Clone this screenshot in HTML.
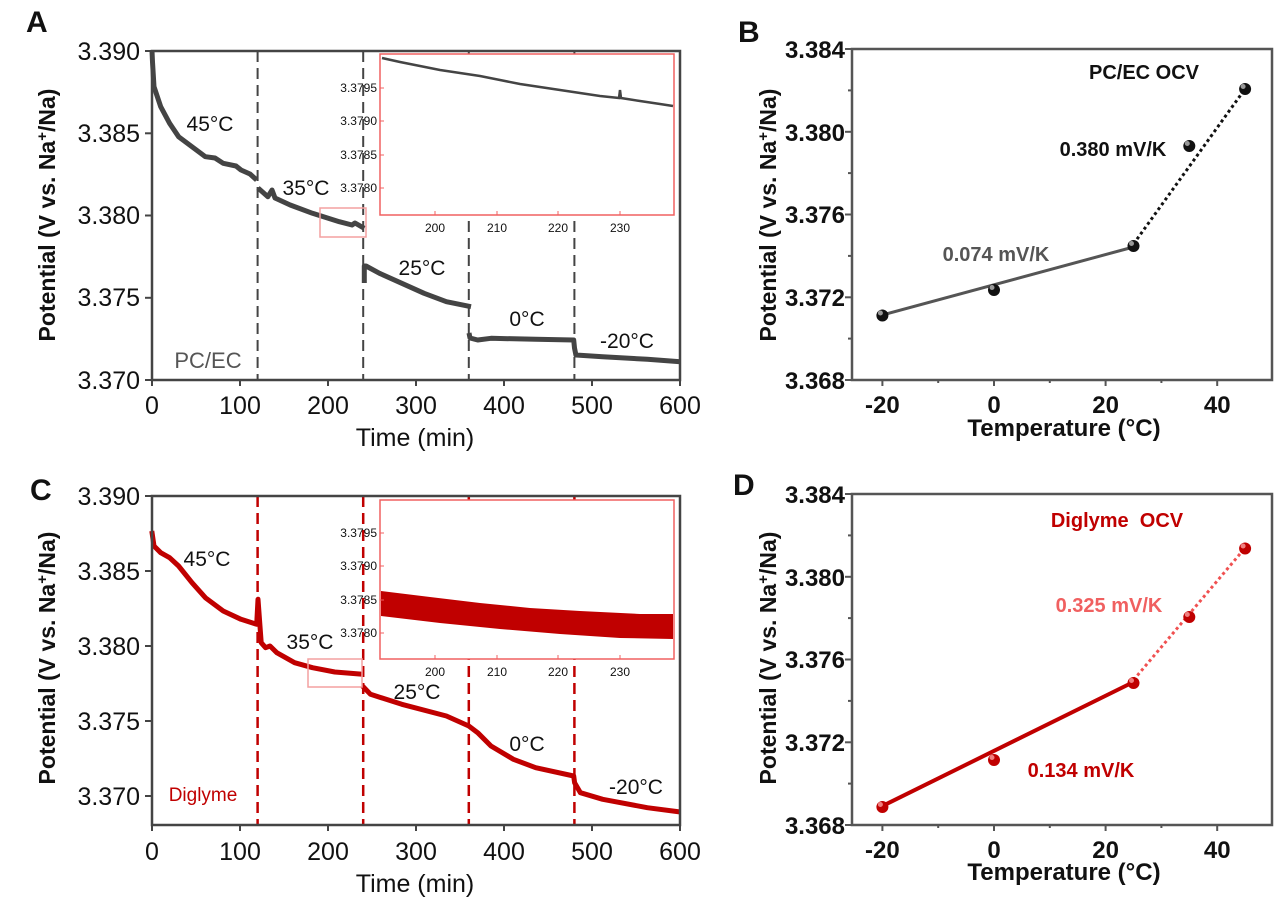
<!DOCTYPE html>
<html><head><meta charset="utf-8"><style>
html,body{margin:0;padding:0;background:#fff;}
svg{display:block;}
text{font-family:"Liberation Sans",Arial,sans-serif;}
.tk{font-size:25px;fill:#111;}
.tb{font-size:24px;font-weight:bold;fill:#111;}
.ins{font-family:"Liberation Serif",serif;font-size:12px;fill:#111;}
.ttl{font-size:23px;font-weight:bold;fill:#111;}
.lab{font-size:21px;fill:#111;}
.pl{font-size:30px;font-weight:bold;fill:#111;}
</style></head><body>
<svg width="1280" height="906" viewBox="0 0 1280 906" xmlns="http://www.w3.org/2000/svg">
<rect width="1280" height="906" fill="#fff"/>

<!-- ============ PANEL A ============ -->
<text class="pl" x="26" y="32">A</text>
<g stroke="#444" stroke-width="2" stroke-dasharray="11,6">
<line x1="257.6" y1="51" x2="257.6" y2="380"/>
<line x1="363.2" y1="51" x2="363.2" y2="380"/>
<line x1="468.8" y1="51" x2="468.8" y2="380"/>
<line x1="574.4" y1="51" x2="574.4" y2="380"/>
</g>
<path fill="none" stroke="#444" stroke-width="5" stroke-linejoin="round" d="M152,51 L152.5,62 L154,86.7 L160.7,106.7 L169.6,123.3 L178.6,136.7 L192,146.7 L205.4,156.7 L215,158 L223.2,163.3 L236,166 L241,170 L250,174 L256.7,180"/>
<path fill="none" stroke="#444" stroke-width="5" stroke-linejoin="round" d="M258,188 L267.9,196.7 L272,190 L275,198 L290.2,205 L312.5,213.3 L339.3,221.7 L352,225 L355,223 L364.3,228.3"/>
<path fill="none" stroke="#444" stroke-width="5" stroke-linejoin="round" d="M364.3,283 L364.3,266 L366,266 L379.5,273.3 L401.8,283.3 L424.1,293.3 L446.4,301.7 L471,306.7"/>
<path fill="none" stroke="#444" stroke-width="5" stroke-linejoin="round" d="M469,333 L470,338 L477.7,340 L491,338.3 L535.7,339.3 L573.7,340 L574.5,348 L575.9,355 L602.7,356.7 L647.3,359.3 L680.4,361.7"/>
<rect x="320" y="208" width="46" height="29" fill="none" stroke="#f4a0a0" stroke-width="1.5"/>
<rect x="380" y="54" width="294" height="161" fill="#fff" stroke="#f06060" stroke-width="1.5"/>
<path fill="none" stroke="#444" stroke-width="2.5" d="M382,58 L400,62 L420,66 L440,70 L460,73 L480,76 L500,80 L520,84 L540,87 L560,90 L580,93 L600,96 L619,98 L620,90 L621,98 L640,101 L660,104 L673,106"/>
<g stroke="#f06060" stroke-width="1">
<line x1="380" y1="88" x2="384" y2="88"/><line x1="380" y1="121" x2="384" y2="121"/><line x1="380" y1="155" x2="384" y2="155"/><line x1="380" y1="188" x2="384" y2="188"/>
<line x1="435" y1="215" x2="435" y2="211"/><line x1="497" y1="215" x2="497" y2="211"/><line x1="558" y1="215" x2="558" y2="211"/><line x1="620" y1="215" x2="620" y2="211"/>
</g>
<g class="ins" text-anchor="end">
<text x="377" y="92">3.3795</text><text x="377" y="125">3.3790</text><text x="377" y="159">3.3785</text><text x="377" y="192">3.3780</text>
</g>
<g class="ins" text-anchor="middle">
<text x="435" y="232">200</text><text x="497" y="232">210</text><text x="558" y="232">220</text><text x="620" y="232">230</text>
</g>
<rect x="152" y="51" width="528" height="329" fill="none" stroke="#444" stroke-width="2.5"/>
<g stroke="#444" stroke-width="2">
<line x1="145" y1="51" x2="152" y2="51"/><line x1="145" y1="133.3" x2="152" y2="133.3"/><line x1="145" y1="215.5" x2="152" y2="215.5"/><line x1="145" y1="297.8" x2="152" y2="297.8"/><line x1="145" y1="380" x2="152" y2="380"/>
<line x1="152" y1="380" x2="152" y2="386"/><line x1="240" y1="380" x2="240" y2="386"/><line x1="328" y1="380" x2="328" y2="386"/><line x1="416" y1="380" x2="416" y2="386"/><line x1="504" y1="380" x2="504" y2="386"/><line x1="592" y1="380" x2="592" y2="386"/><line x1="680" y1="380" x2="680" y2="386"/>
</g>
<g class="tk" text-anchor="end">
<text x="140" y="60">3.390</text><text x="140" y="142">3.385</text><text x="140" y="224">3.380</text><text x="140" y="306">3.375</text><text x="140" y="389">3.370</text>
</g>
<g class="tk" text-anchor="middle">
<text x="152" y="414">0</text><text x="240" y="414">100</text><text x="328" y="414">200</text><text x="416" y="414">300</text><text x="504" y="414">400</text><text x="592" y="414">500</text><text x="680" y="414">600</text>
</g>
<text class="tk" x="415" y="446" text-anchor="middle" font-size="26">Time (min)</text>
<text class="ttl" transform="translate(55,215) rotate(-90)" text-anchor="middle">Potential (V vs. Na<tspan baseline-shift="super" font-size="15">+</tspan>/Na)</text>
<g class="lab" text-anchor="middle">
<text x="210" y="131">45°C</text><text x="306" y="195">35°C</text><text x="422" y="275">25°C</text><text x="527" y="326">0°C</text><text x="627" y="348">-20°C</text>
</g>
<text x="208" y="368" text-anchor="middle" font-size="22" fill="#555">PC/EC</text>

<!-- ============ PANEL B ============ -->
<text class="pl" x="738" y="42">B</text>
<rect x="852" y="49" width="420" height="331" fill="none" stroke="#555" stroke-width="2.5"/>
<g stroke="#555" stroke-width="2">
<line x1="845" y1="49" x2="852" y2="49"/><line x1="848" y1="90.4" x2="852" y2="90.4"/><line x1="845" y1="131.8" x2="852" y2="131.8"/><line x1="848" y1="173.1" x2="852" y2="173.1"/><line x1="845" y1="214.5" x2="852" y2="214.5"/><line x1="848" y1="255.9" x2="852" y2="255.9"/><line x1="845" y1="297.3" x2="852" y2="297.3"/><line x1="848" y1="338.6" x2="852" y2="338.6"/><line x1="845" y1="380" x2="852" y2="380"/>
<line x1="882.4" y1="380" x2="882.4" y2="386"/><line x1="938.2" y1="380" x2="938.2" y2="383"/><line x1="994" y1="380" x2="994" y2="386"/><line x1="1049.8" y1="380" x2="1049.8" y2="383"/><line x1="1105.6" y1="380" x2="1105.6" y2="386"/><line x1="1161.4" y1="380" x2="1161.4" y2="383"/><line x1="1217.2" y1="380" x2="1217.2" y2="386"/>
</g>
<g class="tb" text-anchor="end">
<text x="845" y="58">3.384</text><text x="845" y="141">3.380</text><text x="845" y="223">3.376</text><text x="845" y="306">3.372</text><text x="845" y="389">3.368</text>
</g>
<g class="tb" text-anchor="middle">
<text x="882.4" y="413">-20</text><text x="994" y="413">0</text><text x="1105.6" y="413">20</text><text x="1217.2" y="413">40</text>
</g>
<text class="tb" x="1064" y="436" text-anchor="middle" font-size="25">Temperature (°C)</text>
<text class="ttl" transform="translate(776,215) rotate(-90)" text-anchor="middle">Potential (V vs. Na<tspan baseline-shift="super" font-size="15">+</tspan>/Na)</text>
<line x1="882.4" y1="315" x2="1133.5" y2="247" stroke="#555" stroke-width="3"/>
<line x1="1133.5" y1="244" x2="1245" y2="89" stroke="#111" stroke-width="3" stroke-dasharray="3,3"/>
<g fill="#111"><circle cx="882.4" cy="315.5" r="6"/><circle cx="994" cy="290" r="6"/><circle cx="1133.5" cy="246" r="6"/><circle cx="1189.3" cy="146" r="6"/><circle cx="1245.1" cy="89" r="6"/></g>
<g fill="#999"><circle cx="880.4" cy="313" r="2.5"/><circle cx="992" cy="287.5" r="2.5"/><circle cx="1131.5" cy="243.5" r="2.5"/><circle cx="1187.3" cy="143.5" r="2.5"/><circle cx="1243.1" cy="86.5" r="2.5"/></g>
<text x="1144" y="79" text-anchor="middle" font-size="20" font-weight="bold" fill="#111">PC/EC OCV</text>
<text x="1113" y="156" text-anchor="middle" font-size="20" font-weight="bold" fill="#111">0.380 mV/K</text>
<text x="996" y="261" text-anchor="middle" font-size="20" font-weight="bold" fill="#555">0.074 mV/K</text>

<!-- ============ PANEL C ============ -->
<text class="pl" x="30" y="500">C</text>
<g stroke="#c00000" stroke-width="2.5" stroke-dasharray="11,6">
<line x1="257.6" y1="496" x2="257.6" y2="825"/>
<line x1="363.2" y1="496" x2="363.2" y2="825"/>
<line x1="468.8" y1="496" x2="468.8" y2="825"/>
<line x1="574.4" y1="496" x2="574.4" y2="825"/>
</g>
<path fill="none" stroke="#c00000" stroke-width="5" stroke-linejoin="round" d="M151.8,531 L154,546 L160.7,552.7 L169.6,557.7 L178.6,566 L192,582.7 L205.4,597.7 L223.2,611 L241,619.3 L256.7,624.3 L258,599.3 L261.2,642.7 L265.6,647.7 L270,646 L276.8,652.7 L294.6,662.7 L312.5,667.7 L334.8,672 L362.5,674.3"/>
<path fill="none" stroke="#c00000" stroke-width="5" stroke-linejoin="round" d="M362.5,686 L370.5,694.3 L401.8,704.3 L446.4,716 L468.8,726 L477.7,732.7 L491,746 L513.4,759.3 L535.7,767.7 L573.7,776 L574.6,782.7 L580.4,792.7 L602.7,799.3 L647.3,807.7 L680.4,812"/>
<rect x="308" y="659" width="54" height="28" fill="none" stroke="#f4a0a0" stroke-width="1.5"/>
<rect x="380" y="500" width="294" height="159" fill="#fff" stroke="#f06060" stroke-width="1.5"/>
<path fill="#c00000" d="M381,591 L430,597 L480,603 L530,608 L580,611 L640,614 L673,614 L673,639 L620,638 L560,634 L500,629 L440,623 L381,616 Z"/>
<g stroke="#f06060" stroke-width="1">
<line x1="380" y1="533" x2="384" y2="533"/><line x1="380" y1="566" x2="384" y2="566"/><line x1="380" y1="600" x2="384" y2="600"/><line x1="380" y1="633" x2="384" y2="633"/>
<line x1="435" y1="659" x2="435" y2="655"/><line x1="497" y1="659" x2="497" y2="655"/><line x1="558" y1="659" x2="558" y2="655"/><line x1="620" y1="659" x2="620" y2="655"/>
</g>
<g class="ins" text-anchor="end">
<text x="377" y="537">3.3795</text><text x="377" y="570">3.3790</text><text x="377" y="604">3.3785</text><text x="377" y="637">3.3780</text>
</g>
<g class="ins" text-anchor="middle">
<text x="435" y="676">200</text><text x="497" y="676">210</text><text x="558" y="676">220</text><text x="620" y="676">230</text>
</g>
<rect x="152" y="496" width="528" height="329" fill="none" stroke="#444" stroke-width="2.5"/>
<g stroke="#444" stroke-width="2">
<line x1="145" y1="496" x2="152" y2="496"/><line x1="145" y1="571" x2="152" y2="571"/><line x1="145" y1="646" x2="152" y2="646"/><line x1="145" y1="721" x2="152" y2="721"/><line x1="145" y1="796" x2="152" y2="796"/>
<line x1="152" y1="825" x2="152" y2="831"/><line x1="240" y1="825" x2="240" y2="831"/><line x1="328" y1="825" x2="328" y2="831"/><line x1="416" y1="825" x2="416" y2="831"/><line x1="504" y1="825" x2="504" y2="831"/><line x1="592" y1="825" x2="592" y2="831"/><line x1="680" y1="825" x2="680" y2="831"/>
</g>
<g class="tk" text-anchor="end">
<text x="140" y="505">3.390</text><text x="140" y="580">3.385</text><text x="140" y="655">3.380</text><text x="140" y="730">3.375</text><text x="140" y="805">3.370</text>
</g>
<g class="tk" text-anchor="middle">
<text x="152" y="860">0</text><text x="240" y="860">100</text><text x="328" y="860">200</text><text x="416" y="860">300</text><text x="504" y="860">400</text><text x="592" y="860">500</text><text x="680" y="860">600</text>
</g>
<text class="tk" x="415" y="892" text-anchor="middle" font-size="26">Time (min)</text>
<text class="ttl" transform="translate(55,658) rotate(-90)" text-anchor="middle">Potential (V vs. Na<tspan baseline-shift="super" font-size="15">+</tspan>/Na)</text>
<g class="lab" text-anchor="middle">
<text x="207" y="566">45°C</text><text x="310" y="649">35°C</text><text x="417" y="699">25°C</text><text x="527" y="751">0°C</text><text x="636" y="794">-20°C</text>
</g>
<text x="203" y="801" text-anchor="middle" font-size="19" fill="#c00000">Diglyme</text>

<!-- ============ PANEL D ============ -->
<text class="pl" x="733" y="495">D</text>
<rect x="852" y="494" width="420" height="331" fill="none" stroke="#555" stroke-width="2.5"/>
<g stroke="#555" stroke-width="2">
<line x1="845" y1="494" x2="852" y2="494"/><line x1="848" y1="535.4" x2="852" y2="535.4"/><line x1="845" y1="576.8" x2="852" y2="576.8"/><line x1="848" y1="618.1" x2="852" y2="618.1"/><line x1="845" y1="659.5" x2="852" y2="659.5"/><line x1="848" y1="700.9" x2="852" y2="700.9"/><line x1="845" y1="742.3" x2="852" y2="742.3"/><line x1="848" y1="783.6" x2="852" y2="783.6"/><line x1="845" y1="825" x2="852" y2="825"/>
<line x1="882.4" y1="825" x2="882.4" y2="831"/><line x1="938.2" y1="825" x2="938.2" y2="828"/><line x1="994" y1="825" x2="994" y2="831"/><line x1="1049.8" y1="825" x2="1049.8" y2="828"/><line x1="1105.6" y1="825" x2="1105.6" y2="831"/><line x1="1161.4" y1="825" x2="1161.4" y2="828"/><line x1="1217.2" y1="825" x2="1217.2" y2="831"/>
</g>
<g class="tb" text-anchor="end">
<text x="845" y="503">3.384</text><text x="845" y="586">3.380</text><text x="845" y="668">3.376</text><text x="845" y="751">3.372</text><text x="845" y="834">3.368</text>
</g>
<g class="tb" text-anchor="middle">
<text x="882.4" y="858">-20</text><text x="994" y="858">0</text><text x="1105.6" y="858">20</text><text x="1217.2" y="858">40</text>
</g>
<text class="tb" x="1064" y="880" text-anchor="middle" font-size="25">Temperature (°C)</text>
<text class="ttl" transform="translate(776,658) rotate(-90)" text-anchor="middle">Potential (V vs. Na<tspan baseline-shift="super" font-size="15">+</tspan>/Na)</text>
<line x1="882.4" y1="806" x2="1133.5" y2="682" stroke="#c00000" stroke-width="4"/>
<line x1="1133.5" y1="680" x2="1245" y2="548" stroke="#f05050" stroke-width="3" stroke-dasharray="3,3"/>
<g fill="#c00000"><circle cx="882.4" cy="807" r="6"/><circle cx="994" cy="760" r="6"/><circle cx="1133.5" cy="683" r="6"/><circle cx="1189.3" cy="617" r="6"/><circle cx="1245.1" cy="548.5" r="6"/></g>
<g fill="#f08080"><circle cx="880.4" cy="804.5" r="2.5"/><circle cx="992" cy="757.5" r="2.5"/><circle cx="1131.5" cy="680.5" r="2.5"/><circle cx="1187.3" cy="614.5" r="2.5"/><circle cx="1243.1" cy="546" r="2.5"/></g>
<text x="1117" y="527" text-anchor="middle" font-size="20" font-weight="bold" fill="#c00000" xml:space="preserve">Diglyme  OCV</text>
<text x="1109" y="612" text-anchor="middle" font-size="20" font-weight="bold" fill="#f06060">0.325 mV/K</text>
<text x="1081" y="777" text-anchor="middle" font-size="20" font-weight="bold" fill="#c00000">0.134 mV/K</text>
</svg>
</body></html>
